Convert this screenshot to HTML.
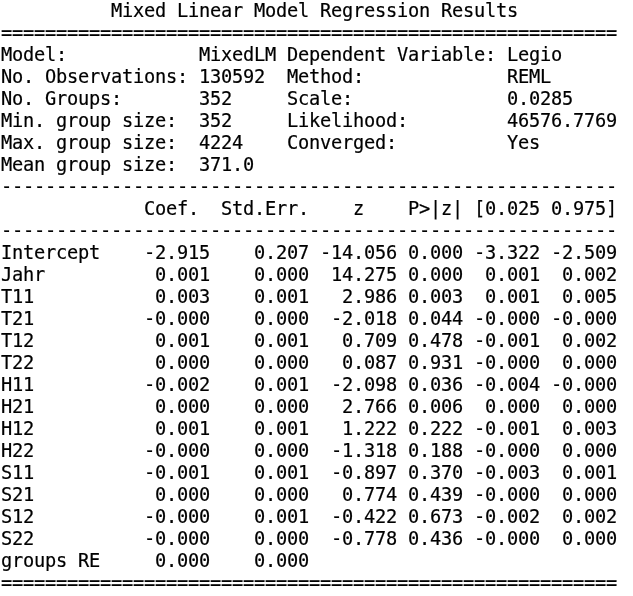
<!DOCTYPE html>
<html><head><meta charset="utf-8"><title>Mixed Linear Model Regression Results</title>
<style>
html,body{margin:0;padding:0;background:#fff;}
body{width:633px;height:596px;overflow:hidden;position:relative;}
pre{position:absolute;left:1px;top:0px;margin:0;padding:0;color:#000;
font-family:"DejaVu Sans Mono","Liberation Mono",monospace;font-size:18.67px;line-height:22px;white-space:pre;-webkit-text-stroke:0.2px #000;letter-spacing:-0.233px;}
</style></head><body><pre>          Mixed Linear Model Regression Results
========================================================
Model:            MixedLM Dependent Variable: Legio     
No. Observations: 130592  Method:             REML      
No. Groups:       352     Scale:              0.0285    
Min. group size:  352     Likelihood:         46576.7769
Max. group size:  4224    Converged:          Yes       
Mean group size:  371.0                                 
--------------------------------------------------------
             Coef.  Std.Err.    z    P&gt;|z| [0.025 0.975]
--------------------------------------------------------
Intercept    -2.915    0.207 -14.056 0.000 -3.322 -2.509
Jahr          0.001    0.000  14.275 0.000  0.001  0.002
T11           0.003    0.001   2.986 0.003  0.001  0.005
T21          -0.000    0.000  -2.018 0.044 -0.000 -0.000
T12           0.001    0.001   0.709 0.478 -0.001  0.002
T22           0.000    0.000   0.087 0.931 -0.000  0.000
H11          -0.002    0.001  -2.098 0.036 -0.004 -0.000
H21           0.000    0.000   2.766 0.006  0.000  0.000
H12           0.001    0.001   1.222 0.222 -0.001  0.003
H22          -0.000    0.000  -1.318 0.188 -0.000  0.000
S11          -0.001    0.001  -0.897 0.370 -0.003  0.001
S21           0.000    0.000   0.774 0.439 -0.000  0.000
S12          -0.000    0.001  -0.422 0.673 -0.002  0.002
S22          -0.000    0.000  -0.778 0.436 -0.000  0.000
groups RE     0.000    0.000                            
========================================================</pre></body></html>
